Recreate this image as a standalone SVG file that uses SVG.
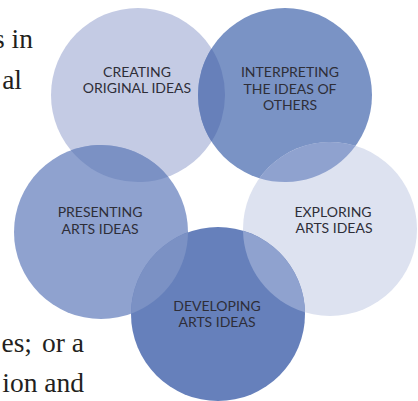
<svg xmlns="http://www.w3.org/2000/svg" width="418" height="401" viewBox="0 0 418 401">
<style>
.lbl{font-family:Lato,"Open Sans","Liberation Sans",sans-serif;font-size:14px;fill:#2e2e38;text-anchor:middle}
.body{font-family:"Liberation Serif","DejaVu Serif",serif;font-size:27.5px;fill:#231f20;text-anchor:end}
</style>
<rect width="418" height="401" fill="#ffffff"/>
<g id="body-text">
<text class="body" x="33" y="48">s in</text>
<text class="body" x="22" y="89">al</text>
<text class="body" x="32" y="352">es;</text>
<text class="body" x="84" y="352">or a</text>
<text class="body" x="84" y="392">ion and</text>
</g>
<g id="node-creating"><circle cx="138" cy="95" r="87" fill="#c4cbe4"/></g>
<g id="node-interpreting"><circle cx="285" cy="95" r="87" fill="#7a93c5"/></g>
<g id="node-presenting"><circle cx="101" cy="232" r="87" fill="#8fa2cf"/></g>
<g id="node-exploring"><circle cx="330" cy="229" r="87" fill="#dde2f0"/></g>
<g id="node-developing"><circle cx="218" cy="314" r="87" fill="#6680bb"/></g>
<g id="overlaps">
<path d="M211.5 48.45A87 87 0 0 1 211.5 141.55A87 87 0 0 1 211.5 48.45Z" fill="#6780ba"/>
<path d="M70.89 150.37A87 87 0 0 1 168.11 176.63A87 87 0 0 1 70.89 150.37Z" fill="#7b91c4"/>
<path d="M355.59 145.85A87 87 0 0 1 259.41 178.15A87 87 0 0 1 355.59 145.85Z" fill="#8fa2cf"/>
<path d="M304.99 312.33A87 87 0 0 1 243.01 230.67A87 87 0 0 1 304.99 312.33Z" fill="#8fa2cf"/>
<path d="M187.99 232.34A87 87 0 0 1 131.01 313.66A87 87 0 0 1 187.99 232.34Z" fill="#7b91c4"/>
</g>
<g id="labels">
<text class="lbl" x="137" y="77">CREATING</text>
<text class="lbl" x="137" y="93">ORIGINAL IDEAS</text>
<text class="lbl" x="290" y="77">INTERPRETING</text>
<text class="lbl" x="290" y="93.5">THE IDEAS OF</text>
<text class="lbl" x="290" y="110">OTHERS</text>
<text class="lbl" x="100" y="217">PRESENTING</text>
<text class="lbl" x="100" y="234">ARTS IDEAS</text>
<text class="lbl" x="333" y="217">EXPLORING</text>
<text class="lbl" x="334" y="233">ARTS IDEAS</text>
<text class="lbl" x="217" y="311">DEVELOPING</text>
<text class="lbl" x="217" y="327">ARTS IDEAS</text>
</g>
</svg>
